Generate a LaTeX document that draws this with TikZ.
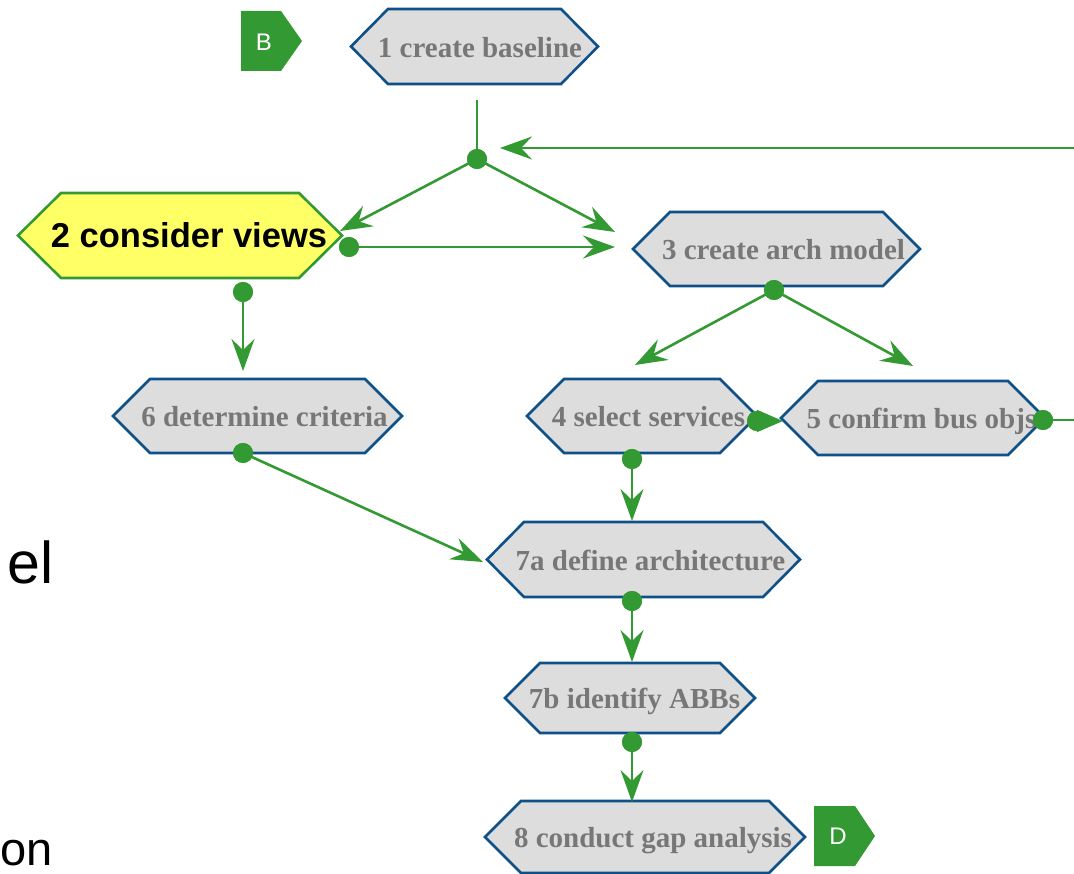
\documentclass[tikz,border=0pt]{standalone}
\usepackage{fontspec}
\setmainfont{Liberation Serif}
\newfontfamily\arialf{Liberation Sans}
\usetikzlibrary{arrows.meta,calc,fit}
\definecolor{grn}{HTML}{339933}
\definecolor{hexblue}{HTML}{0E5088}
\definecolor{hexfill}{HTML}{DDDDDD}
\definecolor{hextext}{HTML}{777777}
\definecolor{yel}{HTML}{FFFF66}
% name, x1, x2, y1, y2, inset, style
\newcommand\hexnode[7]{%
  \coordinate (#1nw) at (#2,#4);
  \coordinate (#1se) at (#3,#5);
  \node[box, fit=(#1nw)(#1se)] (#1) {};
  \path[#7] (#1.west) -- ($(#1.north west)+(#6,0)$) -- ($(#1.north east)+(-#6,0)$)
    -- (#1.east) -- ($(#1.south east)+(-#6,0)$) -- ($(#1.south west)+(#6,0)$) -- cycle;
}
\begin{document}
\begin{tikzpicture}[x=1pt,y=-1pt,
  box/.style={draw=none, inner sep=0pt, outer sep=0pt},
  hexline/.style={draw=hexblue, fill=hexfill, line width=2.6pt, line join=miter},
  hexyel/.style={draw=grn, fill=yel, line width=2.6pt, line join=miter},
  hextxt/.style={text=hextext, font=\fontsize{29}{29}\selectfont\bfseries, inner sep=0pt, anchor=base},
  link/.style={draw=grn, line width=2.6pt},
  flow/.style={draw=grn, line width=2.6pt, -{Stealth[length=32pt,width=23pt,inset=11pt]}},
  shortflow/.style={draw=grn, line width=2.6pt, -{Stealth[length=26pt,width=22pt,inset=1pt]}},
  dot/.style={circle, fill=grn, minimum size=20pt, inner sep=0pt},
  tagshape/.style={fill=grn, draw=none},
  tagtxt/.style={text=white, font=\arialf\fontsize{24}{24}\selectfont, inner sep=0pt},
  ]
\useasboundingbox (0,0) rectangle (1074,874);

% side text fragments
\node[font=\arialf\fontsize{59}{59}\selectfont, inner sep=0pt, anchor=base east] (sel) at (54,583) {el};
\node[font=\arialf\fontsize{47}{47}\selectfont, inner sep=0pt, anchor=base east] (son) at (53,865) {on};

% tags
\path[tagshape] (241,11) -- (281,11) -- (302,41) -- (281,71) -- (241,71) -- cycle;
\node[tagtxt] (tagB) at (264,42) {B};
\path[tagshape] (814,806) -- (855,806) -- (875,836) -- (855,866) -- (814,866) -- cycle;
\node[tagtxt] (tagD) at (838,836) {D};

% hexagon nodes
\hexnode{n1}{351}{598}{9}{84}{37}{hexline}
\hexnode{n2}{18}{342}{193}{278}{43}{hexyel}
\hexnode{n3}{633}{920}{212}{286}{37}{hexline}
\hexnode{n4}{527}{757}{379}{453}{37}{hexline}
\hexnode{n5}{781}{1045}{381}{455}{37}{hexline}
\hexnode{n6}{113}{402}{379}{453}{37}{hexline}
\hexnode{n7a}{487}{800}{522}{597}{37}{hexline}
\hexnode{n7b}{505}{755}{663}{733}{35}{hexline}
\hexnode{n8}{485}{805}{801}{873}{36}{hexline}

% texts
\node[hextxt] (t1) at (480,57.5) {1 create baseline};
\node[inner sep=0pt, anchor=base, font=\arialf\fontsize{34.5}{34.5}\selectfont\bfseries] (t2) at (189,248) {2 consider views};
\node[hextxt] (t3) at (783.5,259.5) {3 create arch model};
\node[hextxt] (t4) at (648.5,426.5) {4 select services};
\node[hextxt] (t5) at (921.5,428.5) {5 confirm bus objs};
\node[hextxt] (t6) at (264.5,426.5) {6 determine criteria};
\node[hextxt] (t7a) at (650.5,570) {7a define architecture};
\node[hextxt] (t7b) at (634.5,708.5) {7b identify ABBs};
\node[hextxt] (t8) at (653,847.5) {8 conduct gap analysis};

% dots
\node[dot] (j) at (477,159) {};
\node[dot] (d2r) at (349,247) {};
\node[dot] (d2b) at (243,292) {};
\node[dot] (d3b) at (774,290) {};
\node[dot] (d4r) at (757,421) {};
\node[dot] (d4b) at (632,459) {};
\node[dot] (d5r) at (1043,420) {};
\node[dot] (d6b) at (243,453) {};
\node[dot] (d7ab) at (632,601) {};
\node[dot] (d7bb) at (632,742) {};

% connector ends
\coordinate (top) at (477,100);
\coordinate (a2) at (340,231);
\coordinate (a3a) at (615,232);
\coordinate (a3b) at (615,247);
\coordinate (a6) at (243,371);
\coordinate (a4) at (635,365);
\coordinate (a5) at (913,366);
\coordinate (a45) at (783,421);
\coordinate (a7a) at (483,562);
\coordinate (a7a2) at (632,521);
\coordinate (a7b) at (632,662);
\coordinate (a8) at (632,802);
\coordinate (c1) at (1075,420);
\coordinate (c2) at (1075,148);
\coordinate (ret) at (500,148);

% connectors
\path[link] (top) -- (j.center);
\path[flow] (j.center) -- (a2);
\path[flow] (j.center) -- (a3a);
\path[flow] (d2r.center) -- (a3b);
\path[flow] (d2b.center) -- (a6);
\path[flow] (d3b.center) -- (a4);
\path[flow] (d3b.center) -- (a5);
\path[shortflow] (d4r.center) -- (a45);
\path[flow] (d4b.center) -- (a7a2);
\path[flow] (d6b.center) -- (a7a);
\path[flow] (d7ab.center) -- (a7b);
\path[flow] (d7bb.center) -- (a8);
\path[flow] (d5r.center) -- (c1) -- (c2) -- (ret);

% redraw dots on top
\foreach \d in {j,d2r,d2b,d3b,d4r,d4b,d5r,d6b,d7ab,d7bb}{
  \fill[grn] (\d.center) circle[radius=10pt];
}
\end{tikzpicture}
\end{document}
